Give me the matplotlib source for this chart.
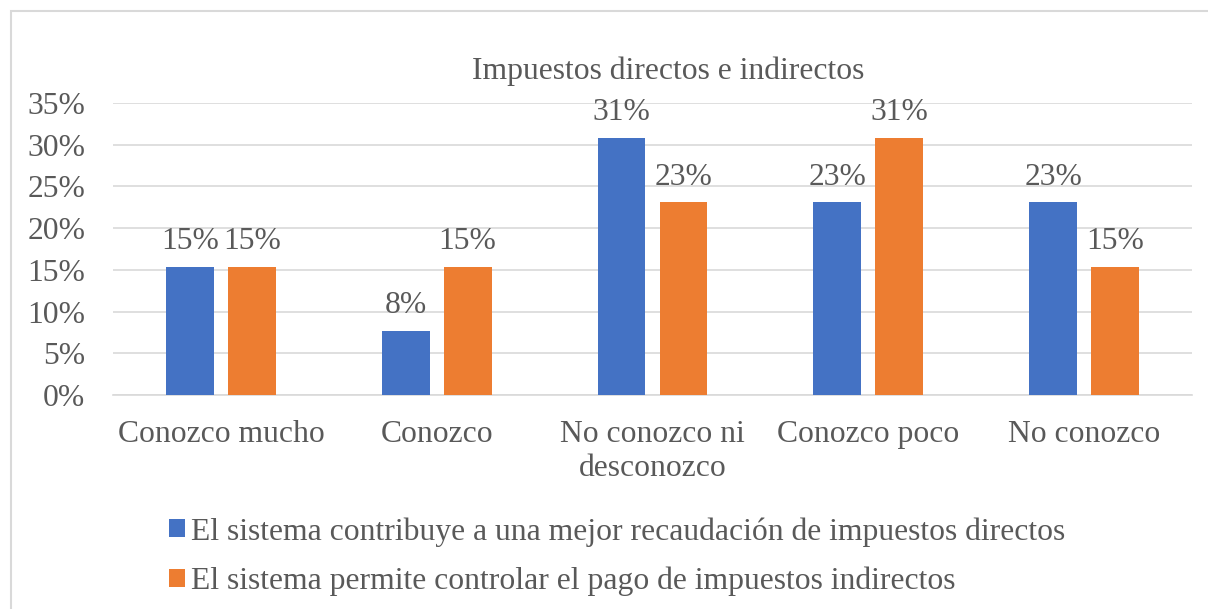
import matplotlib.pyplot as plt
import numpy as np
from matplotlib.patches import Rectangle

categories = ['Conozco mucho', 'Conozco', 'No conozco ni\ndesconozco', 'Conozco poco', 'No conozco']
directos = [15.38, 7.69, 30.77, 23.08, 23.08]
indirectos = [15.38, 15.38, 23.08, 30.77, 15.38]
series_names = ['El sistema contribuye a una mejor recaudación de impuestos directos',
                'El sistema permite controlar el pago de impuestos indirectos']

blue = '#4472C4'
orange = '#ED7D31'
txt = '#595959'
fs = 22.8

plt.rcParams['font.family'] = ['Liberation Serif', 'DejaVu Serif']
plt.rcParams['font.size'] = fs

fig = plt.figure(figsize=(12.08, 6.09), dpi=100)
ax = fig.add_axes([113/1208, 1 - 395/609, 1079/1208, 292/609])

x = np.arange(len(categories))
w = 0.222
off = 0.1435
b1 = ax.bar(x - off, directos, w, color=blue, label=series_names[0], zorder=3)
b2 = ax.bar(x + off, indirectos, w, color=orange, label=series_names[1], zorder=3)

for bars, vals in ((b1, directos), (b2, indirectos)):
    for b, v in zip(bars, vals):
        ax.text(b.get_x() + b.get_width() / 2, v + 1.3, '%d%%' % round(v),
                ha='center', va='bottom', color=txt, fontsize=fs)

ax.set_xlim(-0.5, len(categories) - 0.5)
ax.set_ylim(0, 35)
ax.set_yticks(range(0, 36, 5))
ax.set_yticklabels(['%d%%' % t for t in range(0, 36, 5)])
ax.set_xticks(x)
ax.set_xticklabels(categories, linespacing=1.25)
ax.tick_params(length=0, colors=txt, labelsize=fs)
ax.tick_params(axis='y', pad=20)
ax.tick_params(axis='x', pad=18)
ax.grid(axis='y', color='#D9D9D9', linewidth=1.2, zorder=0)
for s in ['top', 'right', 'left']:
    ax.spines[s].set_visible(False)
ax.spines['bottom'].set_color('#D9D9D9')
ax.spines['bottom'].set_linewidth(1.2)

fig.text(668/1208, 1 - 71/609, 'Impuestos directos e indirectos', ha='center', va='center',
         color=txt, fontsize=fs)

leg = fig.legend(handles=[b1, b2], loc='upper left', bbox_to_anchor=(147/1208, 1 - 495/609),
                 frameon=False, handlelength=0.5, handleheight=0.5, handletextpad=0.2,
                 labelspacing=0.62, fontsize=fs, borderpad=0.2)
for t in leg.get_texts():
    t.set_color(txt)

fig.patches.append(Rectangle((11/1208, -0.05), 1.1, 1 - 11/609 + 0.05, transform=fig.transFigure,
                             fill=False, edgecolor='#D9D9D9', linewidth=1.5))

fig.savefig('out.png', dpi=100)
